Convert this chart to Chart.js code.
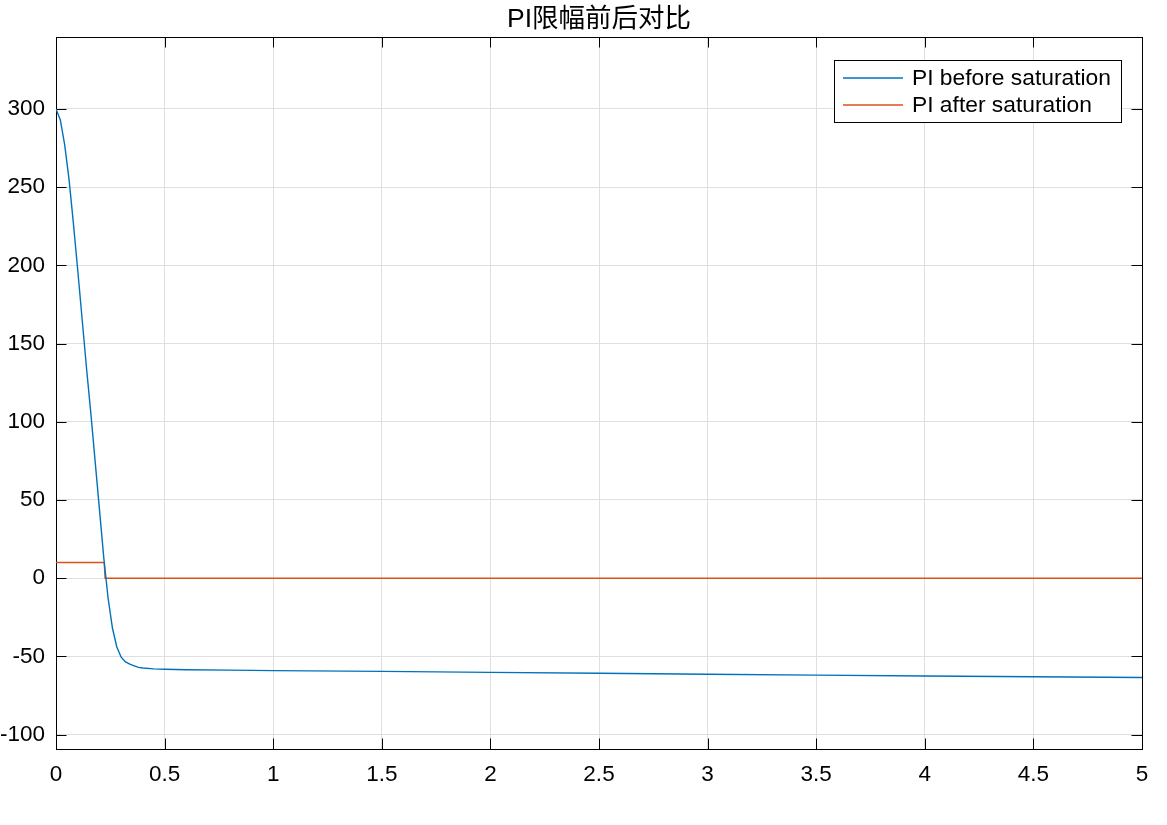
<!DOCTYPE html>
<html>
<head>
<meta charset="utf-8">
<script src="https://cdn.jsdelivr.net/npm/chart.js@4/dist/chart.umd.min.js"></script>
<style>
html,body{margin:0;padding:0;background:#fff;}
#wrap{width:1167px;height:825px;position:relative;}
</style>
</head>
<body>
<div id="wrap"><canvas id="c" width="1167" height="825"></canvas></div>
<script>
const titleText = 'PI限幅前后对比';
const seriesNames = ['PI before saturation', 'PI after saturation'];

const tBefore = [0, 0.02, 0.04, 0.06, 0.08, 0.10, 0.12, 0.14, 0.16, 0.18, 0.20, 0.22, 0.24, 0.26, 0.28, 0.30, 0.32, 0.34, 0.36, 0.38, 0.40, 0.45, 0.5, 0.6, 0.8, 1.0, 1.5, 2.0, 2.5, 3.0, 3.5, 4.0, 4.5, 5.0];
const vBefore = [300, 293, 277, 255, 227, 197, 166, 135, 106, 75, 44, 13, -13, -32, -44, -50.5, -53.5, -55, -56, -57, -57.4, -58, -58.2, -58.5, -58.8, -59.1, -59.6, -60.2, -60.8, -61.4, -62, -62.5, -63, -63.5];

const tAfter = [0, 0.222, 0.226, 5.0];
const vAfter = [10, 10, 0, 0];

const xTicks = [0, 0.5, 1, 1.5, 2, 2.5, 3, 3.5, 4, 4.5, 5];
const yTicks = [-100, -50, 0, 50, 100, 150, 200, 250, 300];
const xLabels = ['0', '0.5', '1', '1.5', '2', '2.5', '3', '3.5', '4', '4.5', '5'];
const yLabels = ['-100', '-50', '0', '50', '100', '150', '200', '250', '300'];

const colors = ['#0072BD', '#D95319'];
const FONT = '"Liberation Sans", Arial, Helvetica, sans-serif';

function pts(xs, ys){ return xs.map((x,i)=>({x:x, y:ys[i]})); }

const boxTicks = {
  id: 'boxTicks',
  beforeDatasetsDraw(chart){
    const {ctx, chartArea:a, scales:{x, y}} = chart;
    ctx.save();
    ctx.strokeStyle = '#000';
    ctx.lineWidth = 1;
    ctx.beginPath();
    const L = 10.5;
    x.ticks.forEach(t=>{
      const px = Math.round(x.getPixelForValue(t.value)) + 0.5;
      ctx.moveTo(px, a.bottom); ctx.lineTo(px, a.bottom - L);
      ctx.moveTo(px, a.top); ctx.lineTo(px, a.top + L);
    });
    y.ticks.forEach(t=>{
      const py = Math.round(y.getPixelForValue(t.value)) + 0.5;
      ctx.moveTo(a.left, py); ctx.lineTo(a.left + L, py);
      ctx.moveTo(a.right, py); ctx.lineTo(a.right - L, py);
    });
    ctx.stroke();
    ctx.strokeRect(Math.round(a.left)+0.5, Math.round(a.top)+0.5, Math.round(a.right-a.left), Math.round(a.bottom-a.top));
    ctx.restore();
  },
  afterDatasetsDraw(chart){
    const {ctx, chartArea:a} = chart;
    ctx.save();
    // title, centred over the plot area
    ctx.fillStyle = '#000';
    ctx.font = '26.5px "Liberation Sans", "Noto Sans CJK SC", sans-serif';
    ctx.textAlign = 'center';
    ctx.textBaseline = 'middle';
    ctx.fillText(titleText, (a.left + a.right) / 2, 19.5);
    // legend
    const lx = 834.5, ly = 60.5, lw = 287, lh = 62;
    ctx.fillStyle = '#fff';
    ctx.fillRect(lx, ly, lw, lh);
    ctx.strokeStyle = '#000';
    ctx.lineWidth = 1;
    ctx.strokeRect(lx, ly, lw, lh);
    ctx.font = '22.8px ' + FONT;
    ctx.textBaseline = 'middle';
    ctx.textAlign = 'left';
    chart.data.datasets.forEach((ds, i)=>{
      const cy = 78 + i*27;
      ctx.strokeStyle = ds.borderColor;
      ctx.lineWidth = 1.3;
      ctx.beginPath(); ctx.moveTo(843, cy); ctx.lineTo(903, cy); ctx.stroke();
      ctx.fillStyle = '#000';
      ctx.fillText(ds.label, 912, cy + 1);
    });
    ctx.restore();
  }
};

new Chart(document.getElementById('c'), {
  type: 'line',
  data: {
    datasets: [
      {label: seriesNames[0], data: pts(tBefore, vBefore), borderColor: colors[0], borderWidth: 1.4, pointRadius: 0, tension: 0, fill: false},
      {label: seriesNames[1], data: pts(tAfter, vAfter), borderColor: colors[1], borderWidth: 1.4, pointRadius: 0, tension: 0, fill: false}
    ]
  },
  options: {
    responsive: false,
    animation: false,
    layout: {padding: {left: 0, right: 25, top: 37, bottom: 0}},
    plugins: {
      legend: {display: false},
      tooltip: {enabled: false},
      title: {display: false}
    },
    scales: {
      x: {
        type: 'linear', min: 0, max: 5,
        afterBuildTicks(s){ s.ticks = xTicks.map(v=>({value:v})); },
        afterFit(s){ s.height = 76; },
        grid: {color: '#dfdfdf', drawTicks: false, lineWidth: 1},
        border: {display: false},
        ticks: {
          color: '#000', font: {family: FONT, size: 22.5}, padding: 12, maxRotation: 0,
          callback: (v)=>{ const i = xTicks.indexOf(v); return i >= 0 ? xLabels[i] : ''; }
        }
      },
      y: {
        type: 'linear', min: -109.2, max: 346,
        afterBuildTicks(s){ s.ticks = yTicks.map(v=>({value:v})); },
        afterFit(s){ s.width = 56; },
        grid: {color: '#dfdfdf', drawTicks: false, lineWidth: 1},
        border: {display: false},
        ticks: {
          color: '#000', font: {family: FONT, size: 22.5}, padding: 11,
          callback: (v)=>{ const i = yTicks.indexOf(v); return i >= 0 ? yLabels[i] : ''; }
        }
      }
    }
  },
  plugins: [boxTicks]
});
</script>
</body>
</html>
